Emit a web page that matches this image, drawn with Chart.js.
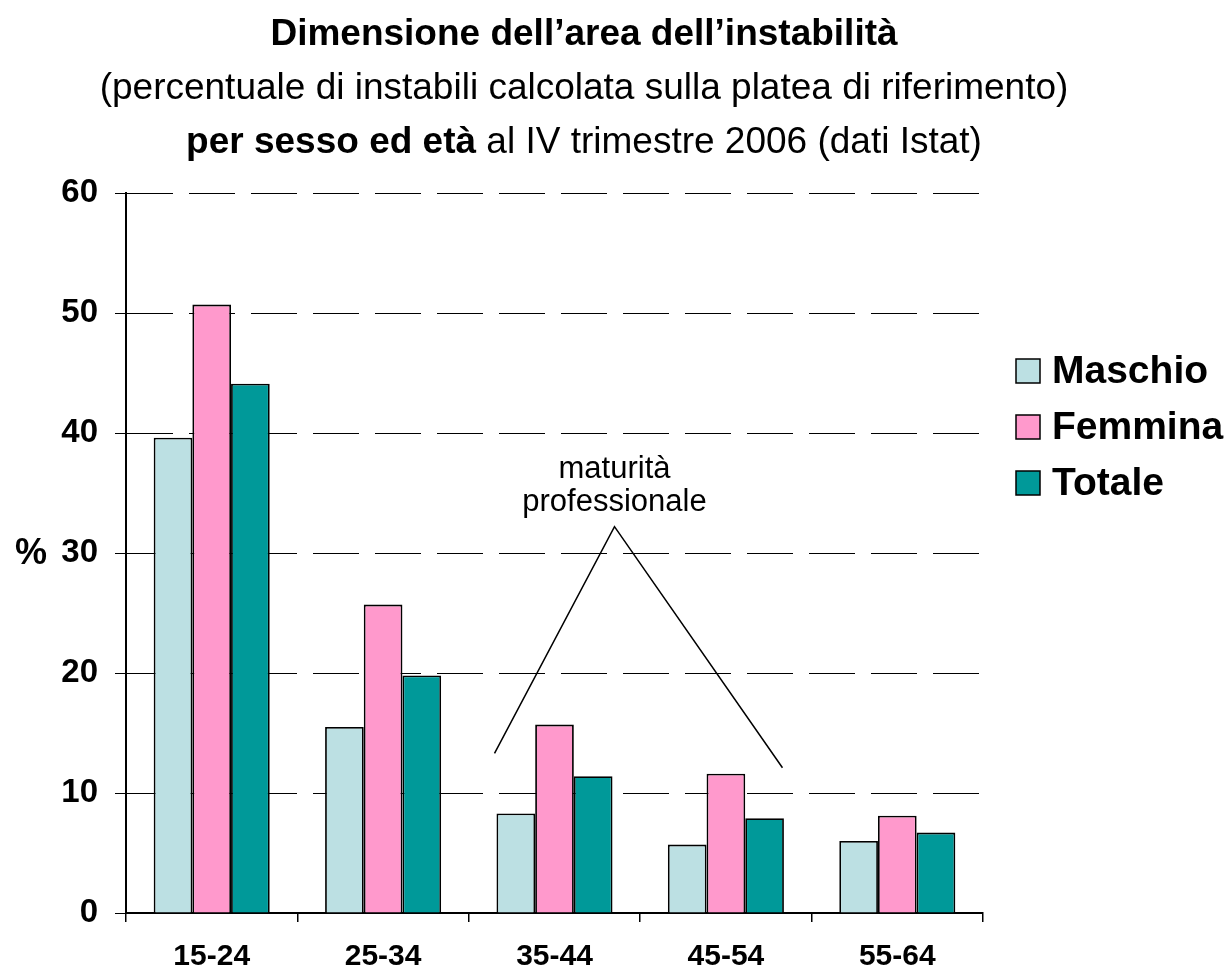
<!DOCTYPE html>
<html>
<head>
<meta charset="utf-8">
<script src="https://cdn.jsdelivr.net/npm/chart.js"></script>
<style>
  html, body { margin: 0; padding: 0; background: #fff; }
  canvas { display: block; }
</style>
</head>
<body>
<canvas id="chart" width="1232" height="970"></canvas>
<script>
// data (% of unstable workers)
const categories = ['15-24', '25-34', '35-44', '45-54', '55-64'];
const seriesNames = ['Maschio', 'Femmina', 'Totale'];
const maschio = [39.6, 15.5, 8.3, 5.7, 6.0];
const femmina = [50.7, 25.7, 15.7, 11.6, 8.1];
const totale = [44.1, 19.8, 11.4, 7.9, 6.7];
const yTicks = [0, 10, 20, 30, 40, 50, 60];
const seriesColors = ['#BCE0E3', '#FF99CC', '#009999'];

// callout "maturità professionale": x in category index, y in %
const noteLines = ['maturità', 'professionale'];
const calloutX = [1.65, 2.35, 3.33];
const calloutY = [13.3, 32.2, 12.1];

const FONT = '"Liberation Sans", Arial, sans-serif';
Chart.defaults.font.family = FONT;
Chart.defaults.color = '#000';

// draws a line made of several text spans, centred on cx
function drawLine(ctx, spans, cx, yb) {
  let total = 0;
  spans.forEach(s => {
    ctx.font = s.f;
    s.w = ctx.measureText(s.t).width;
    total += s.w;
  });
  let x = cx - total / 2;
  ctx.textAlign = 'left';
  ctx.textBaseline = 'alphabetic';
  spans.forEach(s => {
    ctx.font = s.f;
    ctx.fillText(s.t, x, yb);
    x += s.w;
  });
}

const decor = {
  id: 'decor',
  afterDraw(chart) {
    const ctx = chart.ctx;
    const xs = chart.scales.x, ys = chart.scales.y;
    ctx.save();
    ctx.fillStyle = '#000';

    // titles
    drawLine(ctx, [{ t: 'Dimensione dell’area dell’instabilità', f: 'bold 37px ' + FONT }], 584, 45);
    drawLine(ctx, [{ t: '(percentuale di instabili calcolata sulla platea di riferimento)', f: '37px ' + FONT }], 584, 99);
    drawLine(ctx, [
      { t: 'per sesso ed età', f: 'bold 37px ' + FONT },
      { t: ' al IV trimestre 2006 (dati Istat)', f: '37px ' + FONT }
    ], 584, 153);

    // % axis label
    ctx.font = 'bold 36px ' + FONT;
    ctx.textAlign = 'left';
    ctx.textBaseline = 'middle';
    ctx.fillText('%', 15, ys.getPixelForValue(30) + 1);

    // legend
    chart.data.datasets.forEach((ds, i) => {
      const cy = 371 + i * 56;
      ctx.fillStyle = ds.backgroundColor;
      ctx.fillRect(1016, cy - 12, 24, 24);
      ctx.strokeStyle = '#000';
      ctx.lineWidth = 1.5;
      ctx.strokeRect(1016, cy - 12, 24, 24);
      ctx.fillStyle = '#000';
      ctx.font = 'bold 39px ' + FONT;
      ctx.textAlign = 'left';
      ctx.textBaseline = 'middle';
      ctx.fillText(ds.label, 1052, cy + 1);
    });

    // callout
    ctx.strokeStyle = '#000';
    ctx.lineWidth = 1.5;
    ctx.beginPath();
    calloutX.forEach((v, i) => {
      const px = xs.getPixelForValue(v), py = ys.getPixelForValue(calloutY[i]);
      if (i === 0) ctx.moveTo(px, py); else ctx.lineTo(px, py);
    });
    ctx.stroke();
    const cx = xs.getPixelForValue(calloutX[1]);
    ctx.font = '31px ' + FONT;
    ctx.textAlign = 'center';
    ctx.textBaseline = 'alphabetic';
    ctx.fillText(noteLines[0], cx, 478);
    ctx.fillText(noteLines[1], cx, 511);
    ctx.restore();
  }
};

new Chart(document.getElementById('chart'), {
  type: 'bar',
  data: {
    labels: categories,
    datasets: [maschio, femmina, totale].map((vals, i) => ({
      label: seriesNames[i],
      data: vals,
      backgroundColor: seriesColors[i],
      borderColor: '#000',
      borderWidth: 1.8,
      categoryPercentage: 0.677,
      barPercentage: 1
    }))
  },
  options: {
    responsive: false,
    animation: false,
    devicePixelRatio: 1,
    layout: { padding: { top: 193, right: 249, left: 0, bottom: 0 } },
    plugins: {
      legend: { display: false },
      title: { display: false },
      tooltip: { enabled: false }
    },
    scales: {
      x: {
        grid: { display: true, drawOnChartArea: false, drawTicks: true, tickLength: 9, color: '#000', lineWidth: 1.5, offset: true },
        border: { display: true, color: '#000', width: 2 },
        ticks: { font: { size: 30, weight: 'bold' }, color: '#000', padding: 17 },
        afterFit: s => { s.height = 57; }
      },
      y: {
        min: 0,
        max: 60,
        afterBuildTicks: s => { s.ticks = yTicks.map(v => ({ value: v })); },
        grid: { color: '#000', lineWidth: 1, tickLength: 11, tickBorderDash: [] },
        border: { display: true, color: '#000', width: 2, dash: [46, 16] },
        ticks: { font: { size: 33, weight: 'bold' }, color: '#000', padding: 17 },
        afterFit: s => { s.width = 126; }
      }
    }
  },
  plugins: [decor]
});
</script>
</body>
</html>
